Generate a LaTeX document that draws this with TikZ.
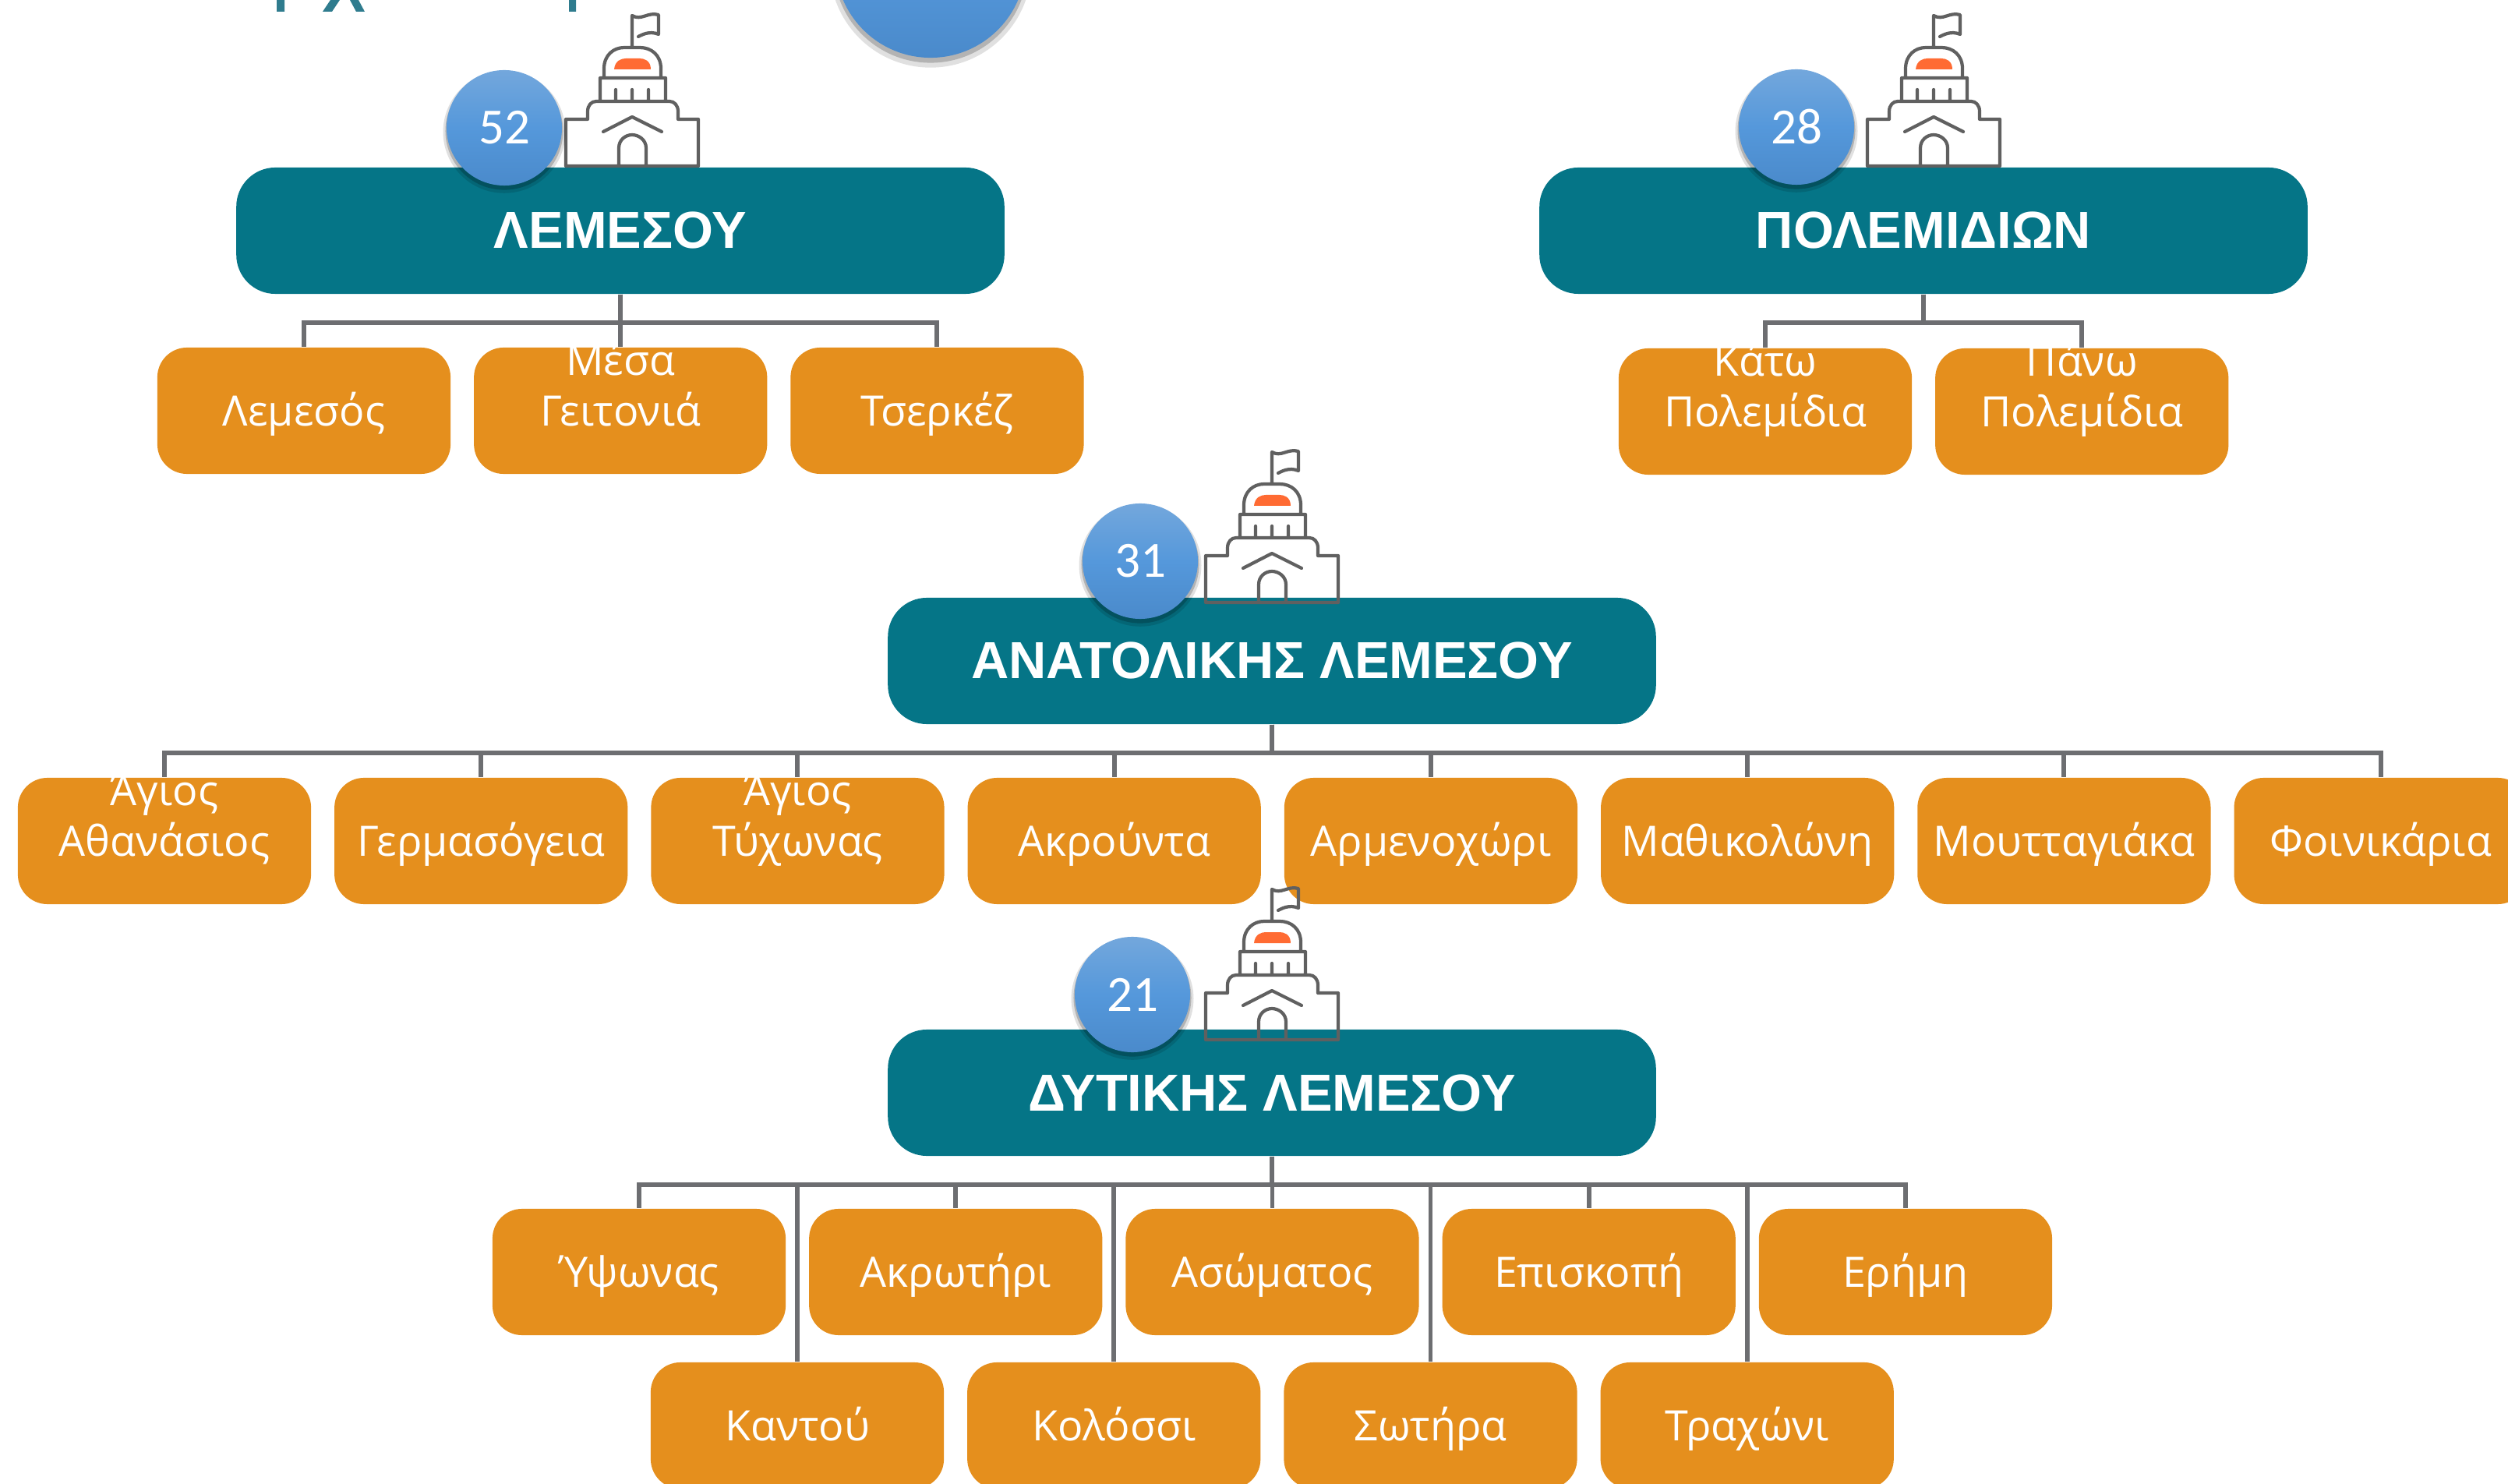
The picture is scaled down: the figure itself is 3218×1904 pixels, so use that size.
\documentclass[tikz,border=0pt]{standalone}
\usepackage{fontspec}
\setmainfont{Open Sans}
\newfontfamily\numfont{Carlito}
\newfontfamily\headfont{Liberation Sans}
\usetikzlibrary{positioning,shadows}
\definecolor{tealbox}{HTML}{057587}
\definecolor{orangebox}{HTML}{E58F1D}
\definecolor{linegray}{HTML}{6D6E71}
\definecolor{icongray}{HTML}{606060}
\definecolor{domeorange}{HTML}{FF6B33}
\definecolor{titleteal}{HTML}{2F7C8E}
\definecolor{blue1}{HTML}{73A7DC}
\definecolor{blue2}{HTML}{4A8ACB}
\definecolor{blue3}{HTML}{5598DB}
\tikzset{
	building/.pic={
		\draw[icongray,line width=1.2pt,line join=round,line cap=round]
			(0,-153)--(0,-193) .. controls (12,-186) and (20,-198) .. (34,-194) -- (34,-169) .. controls (22,-174) and (12,-168) .. (8,-166)
			(-36,-113) -- (-36,-125) .. controls (-36,-142) and (-24,-152) .. (-10,-152) -- (10,-152) .. controls (25,-152) and (37,-142) .. (37,-125) -- (37,-113)
			(-41,-83)--(-41,-113)--(43,-113)--(43,-83)
			(-21,-98)--(-21,-83) (0,-98)--(0,-83) (21,-98)--(21,-83)
			(-57,-60) -- (-57,-70) .. controls (-57,-78) and (-52,-83) .. (-46,-83) -- (48,-83) .. controls (54,-83) and (59,-78) .. (59,-70) -- (59,-60) -- (85,-60) -- (85,0) -- (-85,0) -- (-85,-60) -- cycle
			(-37,-44) -- (0,-63) -- (38,-44)
			(-17,0)--(-17,-23) .. controls (-17,-34) and (-8,-40) .. (0,-40) .. controls (8,-40) and (18,-34) .. (18,-23) -- (18,0);
		\fill[domeorange] (-23,-124) .. controls (-22,-135) and (-14,-138) .. (-8,-138) -- (10,-138) .. controls (16,-138) and (24,-135) .. (24,-124) -- cycle;
	}
}
\begin{document}
\begin{tikzpicture}[x=0.01cm,y=-0.01cm,node distance=4.06cm]
	\tikzstyle{district}=[fill=tealbox,text=white,rounded corners=.5cm,minimum width=9.85cm,minimum height=1.62cm,
		font=\headfont\fontsize{19}{24}\selectfont\bfseries]
	\tikzstyle{place}=[fill=orangebox,text=white,rounded corners=.38cm,minimum width=3.76cm,minimum height=1.62cm,inner xsep=0pt,inner ysep=0pt,
		align=center,text height=14.2pt,text depth=3pt,font=\fontsize{15.3}{18.4}\selectfont]
	\tikzstyle{badge}=[circle,minimum size=1.48cm,inner sep=0pt,text=white,top color=blue1,bottom color=blue2,middle color=blue3,
		font=\numfont\fontsize{18.5}{22}\selectfont,
		general shadow={fill=black,opacity=.12,shadow scale=1.06,shadow yshift=-.05cm},
		general shadow={fill=black,opacity=.2,shadow scale=1.02,shadow yshift=-.04cm}]
	\tikzstyle{link}=[draw=linegray,line width=1.7pt]

	\clip (0,0) rectangle (3218,1904);

	% title remnants
	\fill[titleteal] (355,0) rectangle (365,15) (730,0) rectangle (739,15);
	\fill[titleteal] (424,0) -- (436,0) -- (426,15) -- (414,15) -- cycle (449,0) -- (460,0) -- (468,15) -- (457,15) -- cycle;
	\node[badge,minimum size=2.44cm] (top) at (1194,-48) {};

	% lemesos
	\node[district] (lem) at (796,296) {ΛΕΜΕΣΟΥ};
	\node[place] (lem1) at (390,527) {Λεμεσός};
	\node[place] (lem2) [right of=lem1] {Μέσα\\Γειτονιά};
	\node[place] (lem3) [right of=lem2] {Τσερκέζ};
	\foreach \n in {1,2,3}
		\draw[link] (lem.south) -- ++(0,36) -| (lem\n.north);
	\pic at (811,213) {building};
	\node[badge] (n52) at (647,164) {52};

	% polemidia
	\node[district] (pol) at (2468,296) {ΠΟΛΕΜΙΔΙΩΝ};
	\node[place] (pol1) at (2265,528) {Κάτω\\Πολεμίδια};
	\node[place] (pol2) [right of=pol1] {Πάνω\\Πολεμίδια};
	\foreach \n in {1,2}
		\draw[link] (pol.south) -- ++(0,36) -| (pol\n.north);
	\pic at (2481,213) {building};
	\node[badge] (n28) at (2305,163) {28};

	% east
	\node[district] (ana) at (1632,848) {ΑΝΑΤΟΛΙΚΗΣ ΛΕΜΕΣΟΥ};
	\node[place] (ana1) at (211,1079) {Άγιος\\Αθανάσιος};
	\node[place] (ana2) [right of=ana1] {Γερμασόγεια};
	\node[place] (ana3) [right of=ana2] {Άγιος\\Τύχωνας};
	\node[place] (ana4) [right of=ana3] {Ακρούντα};
	\node[place] (ana5) [right of=ana4] {Αρμενοχώρι};
	\node[place] (ana6) [right of=ana5] {Μαθικολώνη};
	\node[place] (ana7) [right of=ana6] {Μουτταγιάκα};
	\node[place] (ana8) [right of=ana7] {Φοινικάρια};
	\foreach \n in {1,...,8}
		\draw[link] (ana.south) -- ++(0,36) -| (ana\n.north);
	\pic at (1632,773) {building};
	\node[badge] (n31) at (1463,720) {31};

	% west
	\node[district] (dyt) at (1632,1402) {ΔΥΤΙΚΗΣ ΛΕΜΕΣΟΥ};
	\node[place] (dyt1) at (820,1632) {Ύψωνας};
	\node[place] (dyt2) [right of=dyt1] {Ακρωτήρι};
	\node[place] (dyt3) [right of=dyt2] {Ασώματος};
	\node[place] (dyt4) [right of=dyt3] {Επισκοπή};
	\node[place] (dyt5) [right of=dyt4] {Ερήμη};
	\node[place] (dyt6) at (1023,1829) {Καντού};
	\node[place] (dyt7) [right of=dyt6] {Κολόσσι};
	\node[place] (dyt8) [right of=dyt7] {Σωτήρα};
	\node[place] (dyt9) [right of=dyt8] {Τραχώνι};
	\foreach \n in {1,...,9}
		\draw[link] (dyt.south) -- ++(0,36) -| (dyt\n.north);
	\pic at (1632,1334) {building};
	\node[badge] (n21) at (1453,1276) {21};
\end{tikzpicture}
\end{document}
